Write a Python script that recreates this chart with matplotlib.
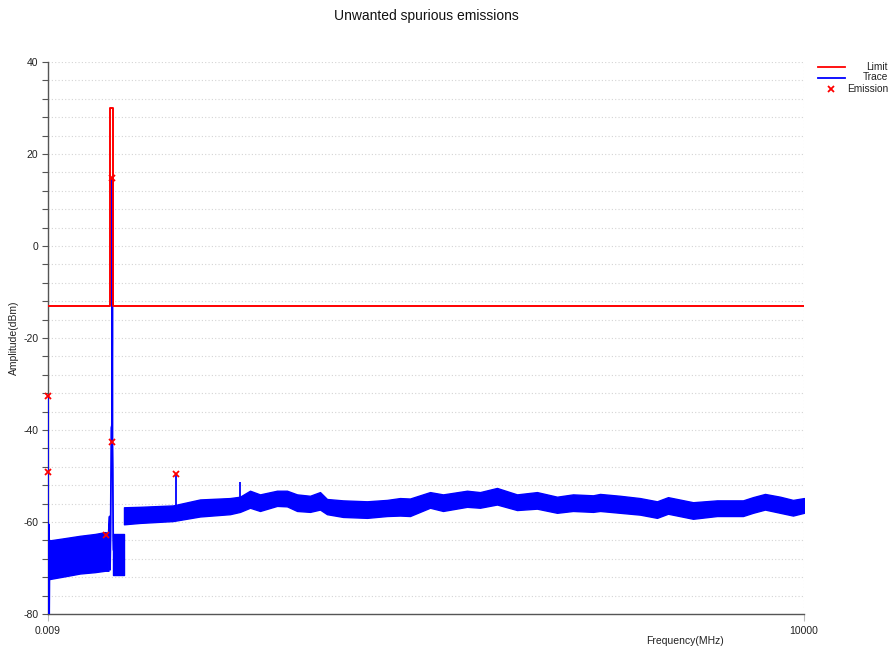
import matplotlib
matplotlib.use("Agg")
import matplotlib.pyplot as plt
from matplotlib.lines import Line2D
from matplotlib.ticker import MultipleLocator, FixedLocator

plt.rcParams["font.family"] = ["Liberation Sans", "DejaVu Sans"]
plt.rcParams["axes.unicode_minus"] = False

# ---------------------------------------------------------------------------
# DATA
# ---------------------------------------------------------------------------
F_MIN, F_MAX = 0.009, 10000
Y_MIN, Y_MAX = -80, 40

# limit mask (step)
limit_f  = [F_MIN, 820, 820, 855, 855, F_MAX]
limit_db = [-13, -13, 30, 30, -13, -13]

# start of the trace: vertical lines at the low edge
start_f  = [F_MIN, F_MIN, 0.01, 10, 15, 22, 26]
start_db = [-32.5, -49, -81, -60.5, -81, -64, -68]

# noise band 1 (below carrier)
band1_f  = [20, 225, 423, 622, 754, 800]
band1_hi = [-64.0, -63.5, -63.0, -62.6, -62.2, -62.4]
band1_lo = [-72.4, -71.8, -71.2, -70.9, -70.6, -70.6]

# carrier region
peak_f  = [800, 815, 820, 828, 838, 845, 849, 851, 853, 857, 862, 866]
peak_db = [-63, -58.8, -70.4, -63, -39.5, -39, -20, 14.8, -42.7, -48, -63, -66]

# noise band 2 (just above carrier)
band2_f  = [866, 1005]
band2_hi = [-62.6, -62.6]
band2_lo = [-71.6, -71.6]

# noise band 3 (1 GHz .. 10 GHz)
band3_f = [1005, 1217, 1653, 2011, 2407, 2540, 2672, 2804, 3029, 3161, 3294,
           3466, 3598, 3690, 3902, 4220, 4484, 4656, 4788, 5053, 5225, 5542,
           5714, 5939, 6204, 6468, 6733, 6944, 7209, 7302, 7566, 7831, 8056,
           8201, 8532, 8849, 9193, 9325, 9484, 9683, 9854, 10000]
band3_hi = [-56.8, -56.7, -56.4, -55.1, -54.8, -54.5, -53.2, -54.0, -53.2,
            -53.2, -54.0, -54.3, -53.5, -55.0, -55.3, -55.5, -55.2, -54.8,
            -54.9, -53.5, -54.0, -53.2, -53.5, -52.6, -54.0, -53.5, -54.5,
            -54.0, -54.2, -53.9, -54.3, -54.8, -55.5, -54.6, -55.7, -55.3,
            -55.3, -54.6, -53.9, -54.5, -55.2, -54.8]
band3_lo = [-60.5, -60.2, -59.8, -58.8, -58.3, -57.8, -56.9, -57.6, -56.5,
            -56.6, -57.6, -57.8, -57.3, -58.3, -58.9, -59.1, -58.7, -58.6,
            -58.7, -56.9, -57.6, -56.7, -56.9, -56.2, -57.4, -57.1, -58.0,
            -57.6, -57.8, -57.6, -58.0, -58.4, -59.1, -58.2, -59.3, -58.7,
            -58.7, -58.0, -57.3, -58.0, -58.6, -58.0]

# narrow spurs on top of band 3
spur_f    = [1693, 2540]
spur_base = [-58.0, -56.0]
spur_top  = [-49.5, -51.3]

# emission markers
emis_f  = [F_MIN, F_MIN, 771, 851, 851, 1693]
emis_db = [-32.5, -49.1, -62.8, 14.8, -42.7, -49.5]

# ---------------------------------------------------------------------------
RED, BLUE = "#ff0000", "#0000ff"
AXC = "#555555"
GRID = "#d4d4d4"
TXT = "#222222"

fig = plt.figure(figsize=(8.94, 6.52), dpi=100)
fig.patch.set_facecolor("white")
ax = fig.add_axes([48 / 894, 1 - 614 / 652, 756 / 894, (614 - 62) / 652])

# trace
ax.plot(start_f, start_db, color=BLUE, lw=1.3, zorder=3)
for f, hi, lo in [(band1_f, band1_hi, band1_lo),
                  (band2_f, band2_hi, band2_lo),
                  (band3_f, band3_hi, band3_lo)]:
    ax.fill_between(f, lo, hi, color=BLUE, lw=1.0, edgecolor=BLUE, zorder=3)
ax.plot(peak_f, peak_db, color=BLUE, lw=1.3, zorder=3)
ax.vlines(spur_f, spur_base, spur_top, color=BLUE, lw=1.3, zorder=3)

# limit
ax.plot(limit_f, limit_db, color=RED, lw=1.4, zorder=4)

# emissions
ax.plot(emis_f, emis_db, ls="none", marker="x", color=RED, ms=4, mew=1.3,
        zorder=5, clip_on=False)

ax.set_xlim(F_MIN, F_MAX)
ax.set_ylim(Y_MIN, Y_MAX)

ax.yaxis.set_major_locator(MultipleLocator(20))
ax.yaxis.set_minor_locator(MultipleLocator(4))
ax.xaxis.set_major_locator(FixedLocator([F_MIN, F_MAX]))
ax.set_xticklabels(["0.009", "10000"])

ax.grid(True, which="both", axis="y", color=GRID, ls=(0, (1, 2)), lw=0.8)
ax.grid(True, which="major", axis="x", color=GRID, ls=(0, (1, 2)), lw=0.8)
ax.set_axisbelow(True)

for s in ("top", "right"):
    ax.spines[s].set_visible(False)
for s in ("left", "bottom"):
    ax.spines[s].set_color(AXC)
    ax.spines[s].set_linewidth(1.0)

ax.tick_params(which="both", axis="y", length=4, width=0.8, color=AXC,
               labelsize=7.5, labelcolor=TXT, pad=3)
ax.tick_params(which="major", axis="x", length=5, width=0.8, color="#bbbbbb",
               labelsize=7.5, labelcolor=TXT, pad=4)

ax.set_ylabel("Amplitude(dBm)", fontsize=7.5, color=TXT)
ax.yaxis.set_label_coords((19 - 48) / 756, 0.5)
fig.text(685 / 894, 1 - 641 / 652, "Frequency(MHz)", ha="center", va="center",
         fontsize=7.5, color=TXT)
fig.text(426 / 894, 1 - 16 / 652, "Unwanted spurious emissions", ha="center",
         va="center", fontsize=10, color="#111111")

# legend drawn in figure pixel coords
def fx(px): return px / 894
def fy(py): return 1 - py / 652

for py, c, lab in [(66.5, RED, "Limit"), (77.5, BLUE, "Trace")]:
    fig.add_artist(Line2D([fx(818), fx(845)], [fy(py), fy(py)], color=c,
                          lw=1.3))
    fig.text(fx(888), fy(py), lab, ha="right", va="center", fontsize=7.3,
             color=TXT)
fig.add_artist(Line2D([fx(831)], [fy(88.5)], ls="none", marker="x", color=RED,
                      ms=4, mew=1.3))
fig.text(fx(888), fy(88.5), "Emission", ha="right", va="center", fontsize=7.3,
         color=TXT)

fig.savefig("out.png", dpi=100, facecolor="white")
